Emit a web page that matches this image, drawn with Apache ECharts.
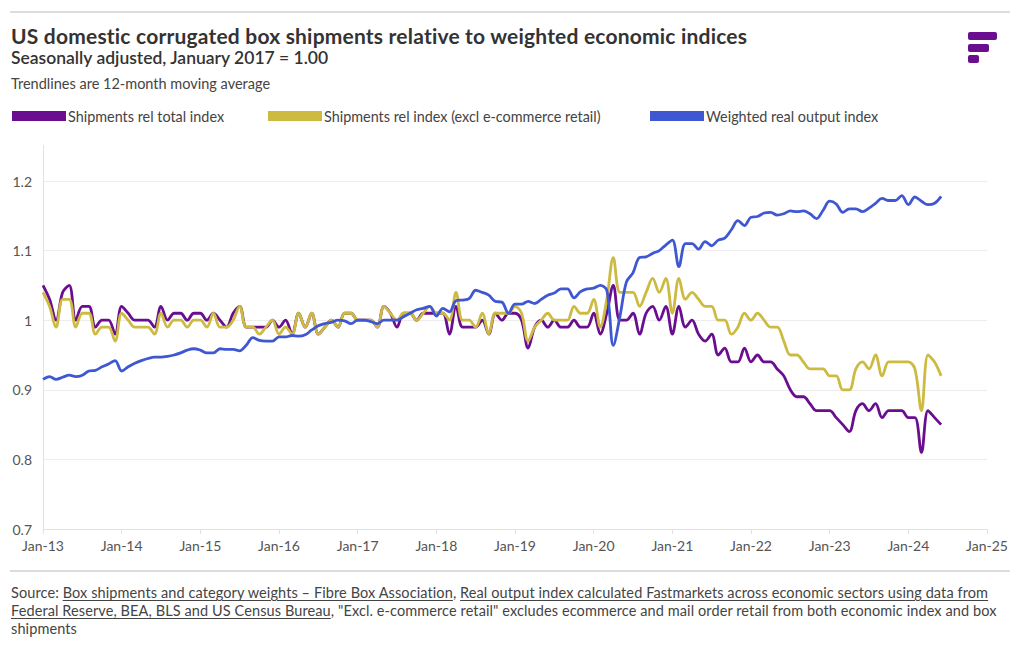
<!DOCTYPE html>
<html>
<head>
<meta charset="utf-8">
<script src="https://cdn.jsdelivr.net/npm/echarts@6.0.0/dist/echarts.min.js"></script>
<style>
  html, body { margin: 0; padding: 0; background: #fff; }
  #wrap { position: relative; width: 1020px; height: 650px; overflow: hidden; font-family: Lato, "Open Sans", sans-serif; color: #333; }
  #chart { position: absolute; left: 0; top: 0; width: 1020px; height: 650px; }
  .rule { position: absolute; left: 10px; width: 1000px; height: 2px; background: #dcdcdc; }
  #title { position: absolute; left: 11px; top: 24px; font-size: 21px; letter-spacing: 0.2px; font-weight: 700; line-height: 24px; color: #333; white-space: nowrap; }
  #subtitle { position: absolute; left: 11px; top: 47px; font-size: 17.5px; font-weight: 600; line-height: 22px; color: #333; white-space: nowrap; }
  #note { position: absolute; left: 11px; top: 75px; font-size: 14.5px; line-height: 18px; color: #444; white-space: nowrap; }
  .foot { position: absolute; left: 11px; font-size: 14.5px; letter-spacing: 0.1px; line-height: 18px; color: #444; white-space: nowrap; }
  .foot u { text-decoration: underline; text-underline-offset: 2px; }
  .logo { position: absolute; background: #6a0d8e; border-radius: 2px; }
</style>
</head>
<body>
<div id="wrap">
  <div id="chart"></div>
  <div class="rule" style="top:11px"></div>
  <div id="title">US domestic corrugated box shipments relative to weighted economic indices</div>
  <div id="subtitle">Seasonally adjusted, January 2017 = 1.00</div>
  <div id="note">Trendlines are 12-month moving average</div>
  <div class="logo" style="left:968px;top:32px;width:29px;height:8px"></div>
  <div class="logo" style="left:968px;top:44px;width:21px;height:8px"></div>
  <div class="logo" style="left:968px;top:55px;width:11px;height:8px"></div>
  <div class="rule" style="top:570px"></div>
  <div class="foot" style="top:584px">Source: <u>Box shipments and category weights – Fibre Box Association</u>, <u>Real output index calculated Fastmarkets across economic sectors using data from</u></div>
  <div class="foot" style="top:602px"><u>Federal Reserve, BEA, BLS and US Census Bureau</u>, "Excl. e-commerce retail" excludes ecommerce and mail order retail from both economic index and box</div>
  <div class="foot" style="top:620px">shipments</div>
</div>
<script>
// ---- data ----
const yearLabels = ['13','14','15','16','17','18','19','20','21','22','23','24','25'];
const monthLabels = ['Jan','Feb','Mar','Apr','May','Jun','Jul','Aug','Sep','Oct','Nov','Dec'];
const seriesNames = ['Shipments rel total index', 'Shipments rel index (excl e-commerce retail)', 'Weighted real output index'];
const yTicks = [0.7, 0.8, 0.9, 1.0, 1.1, 1.2];

// Jan-13 .. Jun-24 monthly
const shipmentsTotal = [
  1.05,1.03,1.00,1.04,1.05,1.00,1.02,1.02,0.99,1.00,1.00,0.98,
  1.02,1.01,1.00,1.00,1.00,0.99,1.02,1.00,1.01,1.01,1.00,1.01,
  1.01,1.00,1.01,1.00,0.99,1.01,1.02,0.99,0.99,0.99,0.99,1.00,
  0.99,1.00,0.98,1.01,0.99,1.01,0.98,0.99,1.00,0.99,1.01,1.01,
  1.00,1.00,1.00,0.99,1.02,1.01,0.99,1.01,1.01,1.00,1.01,1.01,
  1.01,1.01,0.98,1.02,0.99,0.99,0.99,1.00,0.98,1.01,1.00,1.01,
  1.01,1.00,0.96,0.99,1.00,0.99,1.00,0.99,0.99,1.00,0.99,0.99,
  1.01,0.98,1.01,1.05,1.00,1.00,1.01,0.98,1.01,1.02,1.00,1.02,
  0.98,1.02,0.99,1.00,0.98,0.97,0.98,0.95,0.96,0.94,0.94,0.96,
  0.94,0.95,0.94,0.94,0.93,0.92,0.90,0.89,0.89,0.88,0.87,0.87,
  0.87,0.86,0.85,0.84,0.87,0.88,0.87,0.88,0.86,0.87,0.87,0.87,
  0.86,0.86,0.81,0.87,0.86,0.85
];
const shipmentsExclEcom = [
  1.04,1.02,0.99,1.03,1.03,0.99,1.01,1.01,0.98,0.99,0.99,0.97,
  1.01,1.00,0.99,0.99,0.99,0.98,1.01,0.99,1.00,1.00,0.99,1.00,
  1.00,0.99,1.01,0.99,0.99,1.00,1.02,0.99,0.99,0.98,0.99,1.00,
  0.98,0.99,0.98,1.01,0.99,1.01,0.98,0.99,1.00,0.99,1.01,1.01,
  1.00,1.00,1.00,0.99,1.02,1.01,1.00,1.01,1.01,1.00,1.01,1.02,
  1.01,1.01,1.00,1.04,1.00,1.00,0.99,1.01,0.98,1.01,1.01,1.01,
  1.02,1.01,0.97,0.99,1.00,1.01,1.00,1.00,1.00,1.02,1.01,1.01,
  1.03,0.99,1.03,1.09,1.04,1.04,1.04,1.02,1.04,1.06,1.04,1.06,
  1.01,1.06,1.03,1.04,1.03,1.02,1.02,1.00,1.00,0.98,0.99,1.01,
  1.00,1.01,1.00,0.99,0.99,0.97,0.95,0.95,0.94,0.93,0.93,0.93,
  0.92,0.92,0.90,0.90,0.93,0.94,0.93,0.95,0.92,0.94,0.94,0.94,
  0.94,0.93,0.87,0.95,0.94,0.92
];
const realOutputIndex = [
  0.915,0.919,0.915,0.918,0.921,0.919,0.921,0.927,0.928,0.933,0.937,0.942,
  0.927,0.933,0.938,0.942,0.945,0.947,0.947,0.948,0.950,0.953,0.957,0.959,
  0.957,0.953,0.953,0.959,0.958,0.958,0.956,0.964,0.975,0.971,0.970,0.970,
  0.976,0.976,0.978,0.977,0.979,0.986,0.992,0.995,0.997,1.000,0.999,0.995,
  1.000,1.000,0.998,0.995,1.000,1.000,1.000,1.005,1.010,1.015,1.017,1.020,
  1.006,1.017,1.012,1.028,1.029,1.031,1.043,1.040,1.036,1.027,1.026,1.010,
  1.023,1.023,1.027,1.024,1.030,1.036,1.039,1.045,1.045,1.032,1.041,1.045,
  1.046,1.050,1.043,0.964,1.005,1.055,1.068,1.090,1.091,1.096,1.100,1.108,
  1.115,1.077,1.110,1.110,1.102,1.113,1.107,1.115,1.118,1.130,1.143,1.136,
  1.148,1.149,1.154,1.155,1.151,1.153,1.157,1.156,1.157,1.153,1.146,1.158,
  1.171,1.167,1.155,1.160,1.160,1.156,1.161,1.168,1.175,1.172,1.172,1.179,
  1.166,1.177,1.171,1.166,1.168,1.178
];

// ---- build ----
const categories = [];
yearLabels.forEach(y => monthLabels.forEach(m => categories.push(m + '-' + y)));
const months = categories.slice(0, 145); // Jan-13 .. Jan-25

const colors = ['#6a0d8e', '#cdba41', '#3f57d2'];
const FONT = 'Lato, "Open Sans", sans-serif';

const chart = echarts.init(document.getElementById('chart'), null, { renderer: 'svg' });

function legendFor(name, left) {
  return {
    data: [name], left: left, top: 109, icon: 'rect', itemWidth: 54, itemHeight: 10,
    padding: 0, selectedMode: false,
    textStyle: { fontFamily: FONT, fontSize: 14.4, color: '#444', padding: [0,0,0,-3] }
  };
}

chart.setOption({
  animation: false,
  color: colors,
  legend: [
    legendFor(seriesNames[0], 12),
    legendFor(seriesNames[1], 268),
    legendFor(seriesNames[2], 650)
  ],
  grid: { left: 43, right: 33, top: 181, bottom: 121, containLabel: false },
  xAxis: {
    type: 'category',
    data: months,
    boundaryGap: false,
    axisLine: { show: true, lineStyle: { color: '#e2e2e2', width: 1 } },
    axisTick: { show: true, interval: 11, length: 5, lineStyle: { color: '#e2e2e2' } },
    axisLabel: { interval: 11, margin: 9, fontFamily: FONT, fontSize: 14, color: '#555' },
    splitLine: { show: false }
  },
  yAxis: {
    type: 'value',
    min: yTicks[0], max: yTicks[yTicks.length - 1], interval: 0.1,
    axisLine: { show: true, lineStyle: { color: '#e2e2e2', width: 1 } },
    axisTick: { show: false },
    axisLabel: { margin: 11, fontFamily: FONT, fontSize: 14, color: '#555',
      formatter: v => String(+(+v).toFixed(1)) },
    splitLine: { show: true, lineStyle: { color: '#ececec', width: 1 } }
  },
  graphic: [
    { type: 'line', shape: { x1: 43.5, y1: 145, x2: 43.5, y2: 181 }, style: { stroke: '#e2e2e2', lineWidth: 1 }, silent: true }
  ],
  series: [
    { name: seriesNames[0], type: 'line', data: shipmentsTotal, smooth: 0.35, symbol: 'none', lineStyle: { width: 2.8, color: colors[0] }, z: 2 },
    { name: seriesNames[1], type: 'line', data: shipmentsExclEcom, smooth: 0.35, symbol: 'none', lineStyle: { width: 2.8, color: colors[1] }, z: 3 },
    { name: seriesNames[2], type: 'line', data: realOutputIndex, smooth: 0.35, symbol: 'none', lineStyle: { width: 2.8, color: colors[2] }, z: 4 }
  ]
});
</script>
</body>
</html>
